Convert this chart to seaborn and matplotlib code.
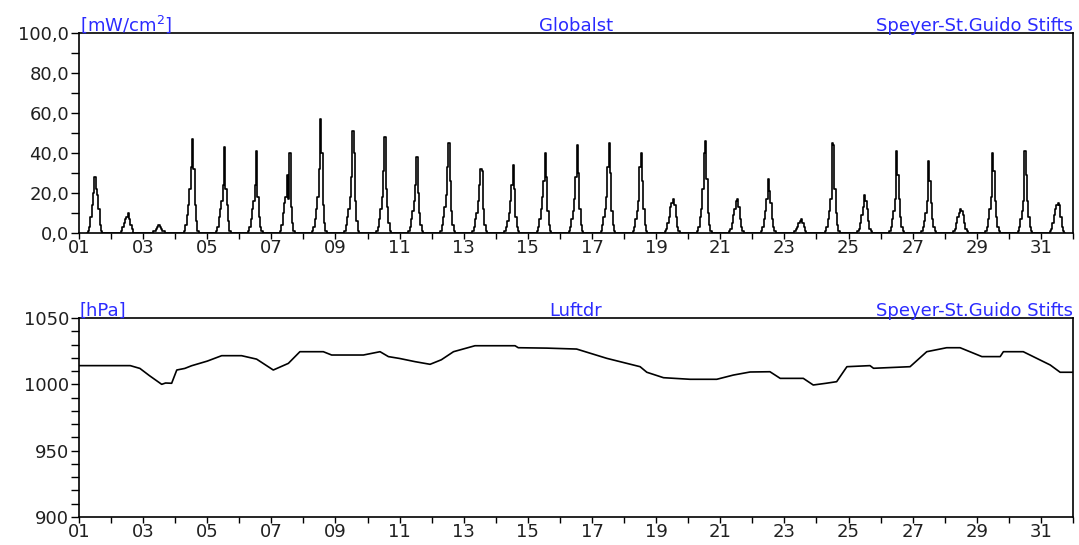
import numpy as np
import pandas as pd
import matplotlib
matplotlib.use("Agg")
import matplotlib.pyplot as plt
from matplotlib.ticker import MultipleLocator, FixedLocator, FuncFormatter
import seaborn as sns

# ---------------- data ----------------
days = list(range(1, 32))
hours = [6, 7, 8, 9, 10, 11, 12, 13, 14, 15, 16, 17, 18]

# global radiation [mW/cm2], hourly values per day (hours 6..18)
glob_rad = [
    [0, 1, 3, 8, 14, 20, 28, 22, 19, 12, 4, 1, 0],
    [0, 0, 1, 3, 5, 7, 8, 10, 7, 4, 2, 0, 0],
    [0, 0, 1, 1, 2, 3, 4, 3, 2, 1, 1, 0, 0],
    [0, 1, 4, 9, 14, 22, 33, 47, 32, 14, 6, 1, 0],
    [0, 1, 3, 8, 12, 16, 24, 43, 22, 14, 6, 1, 0],
    [0, 1, 3, 7, 12, 16, 24, 41, 18, 8, 3, 1, 0],
    [0, 1, 4, 10, 15, 18, 29, 17, 40, 13, 5, 1, 0],
    [0, 1, 3, 7, 12, 18, 32, 57, 40, 14, 5, 1, 0],
    [0, 1, 4, 8, 12, 18, 28, 51, 40, 16, 6, 1, 0],
    [0, 1, 3, 7, 12, 18, 31, 48, 22, 13, 5, 1, 0],
    [0, 1, 3, 7, 11, 16, 24, 38, 20, 10, 4, 1, 0],
    [0, 1, 4, 8, 13, 19, 33, 45, 26, 11, 4, 1, 0],
    [0, 1, 3, 7, 10, 16, 24, 32, 31, 12, 4, 1, 0],
    [0, 1, 3, 6, 10, 16, 24, 34, 22, 8, 3, 1, 0],
    [0, 1, 3, 7, 12, 18, 26, 40, 28, 11, 4, 1, 0],
    [0, 1, 3, 7, 11, 17, 28, 44, 30, 12, 4, 1, 0],
    [0, 1, 4, 8, 12, 18, 33, 45, 30, 11, 4, 1, 0],
    [0, 1, 3, 7, 11, 16, 33, 40, 26, 12, 4, 1, 0],
    [0, 1, 2, 5, 8, 13, 15, 17, 14, 8, 3, 1, 0],
    [0, 1, 3, 8, 12, 22, 40, 46, 27, 10, 4, 1, 0],
    [0, 1, 2, 5, 9, 12, 16, 17, 13, 7, 3, 1, 0],
    [0, 1, 3, 7, 11, 17, 27, 21, 15, 7, 3, 1, 0],
    [0, 0, 1, 2, 3, 5, 6, 7, 5, 3, 1, 0, 0],
    [0, 1, 3, 7, 11, 17, 45, 44, 22, 10, 4, 1, 0],
    [0, 1, 2, 5, 9, 13, 19, 16, 12, 6, 2, 1, 0],
    [0, 1, 3, 7, 11, 17, 41, 29, 17, 8, 3, 1, 0],
    [0, 1, 3, 6, 10, 16, 36, 26, 15, 7, 3, 1, 0],
    [0, 1, 2, 5, 8, 10, 12, 11, 9, 5, 2, 1, 0],
    [0, 1, 3, 7, 12, 18, 40, 31, 16, 8, 3, 1, 0],
    [0, 1, 3, 7, 11, 16, 41, 29, 16, 8, 3, 1, 0],
    [0, 1, 2, 5, 9, 12, 14, 15, 14, 8, 3, 1, 0],
]

# air pressure [hPa]: time (day of month, fractional) and value
press_time = [1.0, 2.6, 2.9, 3.2, 3.58, 3.7, 3.89, 4.05, 4.3, 4.51, 5.0, 5.45,
              6.07, 6.54, 7.06, 7.53, 7.89, 8.62, 8.88, 9.87, 10.39, 10.65,
              11.0, 11.48, 11.95, 12.3, 12.68, 13.35, 14.6, 14.7, 15.59, 16.52,
              17.46, 18.5, 18.71, 19.23, 20.06, 20.89, 21.41, 21.93, 22.55,
              22.87, 23.59, 23.9, 24.3, 24.63, 24.95, 25.67, 25.78, 26.92,
              27.44, 28.06, 28.48, 29.16, 29.73, 29.83, 30.45, 31.29, 31.6, 32.0]
press_val = [1014.1, 1014.1, 1012.0, 1006.5, 1000.0, 1001.0, 1000.8, 1010.8,
             1012.0, 1014.0, 1017.5, 1021.6, 1021.6, 1019.0, 1010.8, 1015.8,
             1024.6, 1024.6, 1022.1, 1022.1, 1024.6, 1020.9, 1019.5, 1017.1,
             1015.1, 1018.5, 1024.6, 1029.1, 1029.1, 1027.6, 1027.3, 1026.6,
             1019.6, 1013.3, 1009.1, 1005.0, 1003.8, 1003.8, 1007.0, 1009.3,
             1009.5, 1004.5, 1004.5, 999.5, 1000.8, 1002.0, 1013.3, 1014.1,
             1012.1, 1013.3, 1024.6, 1027.6, 1027.6, 1020.9, 1020.9, 1024.6,
             1024.6, 1014.6, 1009.1, 1009.1]

xtick_days = [1, 3, 5, 7, 9, 11, 13, 15, 17, 19, 21, 23, 25, 27, 29, 31]
xtick_labels = ["01", "03", "05", "07", "09", "11", "13", "15", "17", "19",
                "21", "23", "25", "27", "29", "31"]
station = "Speyer-St.Guido Stifts"

# ---------------- frames ----------------
rows = []
for d, prof in zip(days, glob_rad):
    for h, v in zip(hours, prof):
        rows.append((d + h / 24.0, v))
df_glob = pd.DataFrame(rows, columns=["t", "v"])
df_press = pd.DataFrame({"t": press_time, "v": press_val})

# ---------------- style ----------------
sns.set_style("white")
plt.rcParams["font.family"] = ["DejaVu Sans"]
BLUE = "#2b2bff"
TXT = "#202020"
FS = 13

fig = plt.figure(figsize=(10.79, 5.45), dpi=100)
ax1 = fig.add_axes([0.0732, 0.5725, 0.9212, 0.3670])
ax2 = fig.add_axes([0.0732, 0.0514, 0.9212, 0.3651])

sns.lineplot(data=df_glob, x="t", y="v", ax=ax1, color="black", lw=1.2,
             estimator=None, sort=False, drawstyle="steps-mid")
sns.lineplot(data=df_press, x="t", y="v", ax=ax2, color="black", lw=1.2,
             estimator=None, sort=False)

for ax in (ax1, ax2):
    ax.set_xlim(1, 32)
    ax.xaxis.set_major_locator(FixedLocator(xtick_days))
    ax.set_xticklabels(xtick_labels)
    ax.xaxis.set_minor_locator(MultipleLocator(1))
    ax.set_xlabel("")
    ax.set_ylabel("")
    for s in ax.spines.values():
        s.set_visible(True)
        s.set_color("black")
        s.set_linewidth(1.2)
    ax.tick_params(axis="x", which="both", direction="out", length=4,
                   width=1, color="black", bottom=True, labelsize=FS,
                   labelcolor=TXT, pad=0)
    ax.tick_params(axis="y", which="both", direction="out", length=6,
                   width=1, color="black", left=True, labelsize=FS,
                   labelcolor=TXT, pad=1)
    ax.grid(False)

ax1.set_ylim(0, 100)
ax1.yaxis.set_major_locator(MultipleLocator(20))
ax1.yaxis.set_minor_locator(MultipleLocator(10))
ax1.yaxis.set_major_formatter(FuncFormatter(lambda v, p: f"{v:.1f}".replace(".", ",")))

ax2.set_ylim(900, 1050)
ax2.yaxis.set_major_locator(MultipleLocator(50))
ax2.yaxis.set_minor_locator(MultipleLocator(10))
ax2.yaxis.set_major_formatter(FuncFormatter(lambda v, p: f"{v:.0f}"))

for ax, unit, name in ((ax1, "[mW/cm$^2$]", "Globalst"), (ax2, "[hPa]", "Luftdr")):
    kw = dict(transform=ax.transAxes, va="baseline", color=BLUE, fontsize=FS,
              zorder=6, clip_on=False)
    ax.text(0.001, 1.012, unit, ha="left", **kw)
    ax.text(0.5, 1.012, name, ha="center", **kw)
    ax.text(1.0, 1.012, station, ha="right", **kw)

fig.savefig("out.png", dpi=100)
